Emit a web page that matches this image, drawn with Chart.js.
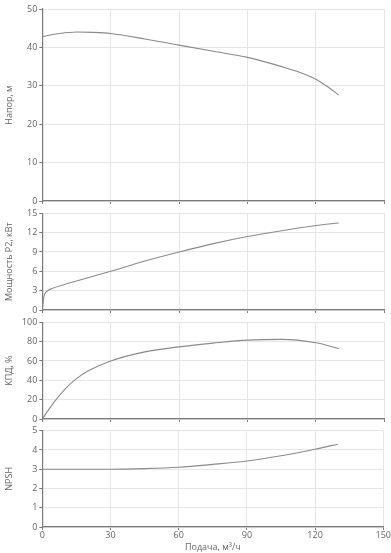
<!DOCTYPE html>
<html>
<head>
<meta charset="utf-8">
<script src="https://cdn.jsdelivr.net/npm/chart.js@4"></script>
<style>
  body { margin: 0; background: #fff; }
  #wrap { position: relative; width: 391px; height: 553px; overflow: hidden; }
  canvas { position: absolute; left: 0; }
</style>
</head>
<body>
<div id="wrap">
  <canvas id="c-head"></canvas>
  <canvas id="c-power"></canvas>
  <canvas id="c-eff"></canvas>
  <canvas id="c-npsh"></canvas>
</div>
<script>
const headFlow = [0, 7.5, 15, 22.5, 30, 45, 60, 75, 90, 105, 112.5, 120, 125, 130];
const headValues = [42.8, 43.6, 44.0, 43.9, 43.6, 42.2, 40.6, 39.0, 37.4, 35.0, 33.6, 31.7, 29.8, 27.6];

const powerFlow = [0, 0.5, 1, 2, 4, 10, 15, 30, 45, 60, 75, 90, 105, 120, 130];
const powerValues = [0, 1.6, 2.4, 2.9, 3.3, 4.0, 4.5, 6.0, 7.6, 9.0, 10.3, 11.4, 12.3, 13.1, 13.5];

const effFlow = [0, 5, 10, 15, 20, 30, 45, 60, 75, 90, 105, 120, 130];
const effValues = [0, 17, 31, 41.7, 49.6, 60, 69.4, 74.6, 78.5, 81.6, 82.3, 78.8, 72.9];

const npshFlow = [0, 15, 30, 45, 60, 75, 90, 105, 120, 130];
const npshValues = [3.0, 3.0, 3.0, 3.03, 3.1, 3.25, 3.43, 3.7, 4.04, 4.3];

const xTicks = [0, 30, 60, 90, 120, 150];
const xTitle = 'Подача, м³/ч';

// panels: [canvas id, y title, y max, y step, flow, values, area top, area bottom]
const panels = [
  ['c-head', 'Напор, м', 50, 10, headFlow, headValues, 9, 201],
  ['c-power', 'Мощность P2, кВт', 15, 3, powerFlow, powerValues, 213.3, 310],
  ['c-eff', 'КПД, %', 100, 20, effFlow, effValues, 322.3, 418.3],
  ['c-npsh', 'NPSH', 5, 1, npshFlow, npshValues, 430.7, 527]
];

const FONT = '"Open Sans", sans-serif';
const TEXT = '#666';
const GRID = '#e6e6ea';
const AXIS = '#7a7a7a';
const PAD_TOP = 9;

panels.forEach((p, i) => {
  const [id, title, yMax, yStep, flow, values, top, bottom] = p;
  const last = i === panels.length - 1;
  const canvasTop = Math.floor(top - PAD_TOP);
  const padTop = top - canvasTop;
  const xHeight = last ? 553 - bottom : 8;
  const height = Math.ceil(padTop + (bottom - top) + xHeight);

  const canvas = document.getElementById(id);
  canvas.style.top = canvasTop + 'px';
  canvas.width = 391;
  canvas.height = height;

  new Chart(canvas, {
    type: 'line',
    data: {
      datasets: [{
        data: flow.map((x, k) => ({ x: x, y: values[k] })),
        borderColor: '#8a8a8a',
        borderWidth: 1.1,
        pointRadius: 0,
        cubicInterpolationMode: 'monotone',
        fill: false
      }]
    },
    options: {
      responsive: false,
      animation: false,
      events: [],
      layout: { padding: { top: padTop, right: 391 - 384.3, bottom: 0, left: 0 } },
      plugins: { legend: { display: false }, tooltip: { enabled: false } },
      scales: {
        x: {
          type: 'linear',
          min: 0,
          max: 150,
          afterBuildTicks: s => { s.ticks = xTicks.map(v => ({ value: v })); },
          afterFit: s => { s.height = xHeight; },
          border: { color: AXIS, width: 1.2 },
          grid: { color: GRID, tickColor: AXIS, tickLength: 3 },
          ticks: {
            display: last,
            color: TEXT,
            padding: 0,
            maxRotation: 0,
            font: { family: FONT, size: 9 }
          },
          title: {
            display: last,
            text: xTitle,
            color: TEXT,
            padding: { top: -2, bottom: 0 },
            font: { family: FONT, size: 9 }
          }
        },
        y: {
          min: 0,
          max: yMax,
          ticks: { stepSize: yStep, color: TEXT, padding: 2, font: { family: FONT, size: 9 } },
          afterFit: s => { s.width = 42.3; },
          border: { color: AXIS, width: 1.2 },
          grid: { color: GRID, tickColor: AXIS, tickLength: 3 },
          title: {
            display: true,
            text: title,
            color: TEXT,
            padding: { top: 4, bottom: 0 },
            font: { family: FONT, size: 9 }
          }
        }
      }
    }
  });
});
</script>
</body>
</html>
